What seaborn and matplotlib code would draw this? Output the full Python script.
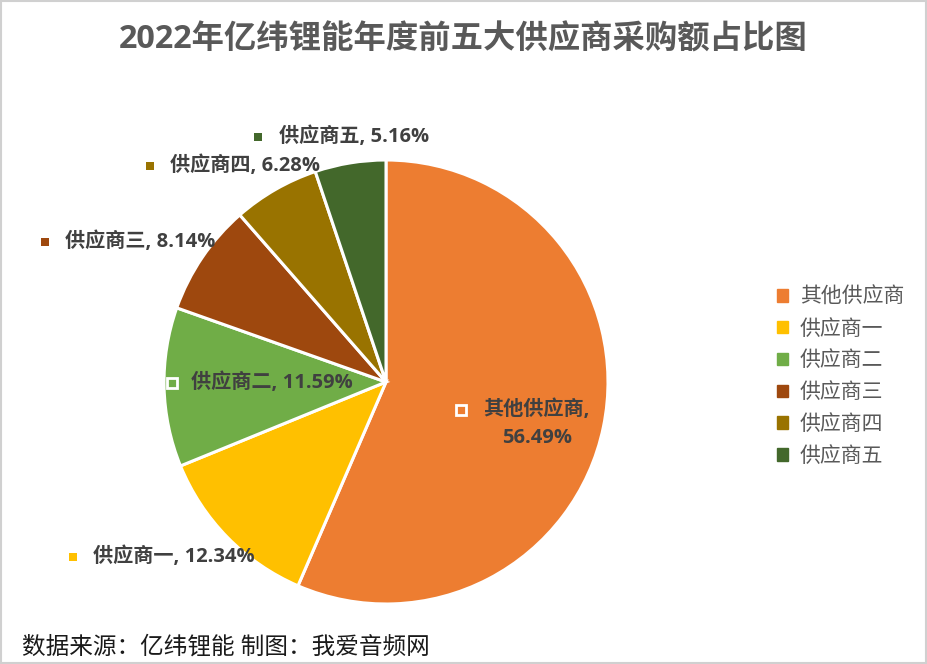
import matplotlib
matplotlib.use("Agg")
import matplotlib.pyplot as plt
from matplotlib.lines import Line2D
from matplotlib.patches import Rectangle
import seaborn as sns

categories = ["其他供应商", "供应商一", "供应商二", "供应商三", "供应商四", "供应商五"]
values = [56.49, 12.34, 11.59, 8.14, 6.28, 5.16]
colors = ["#ED7D31", "#FFC000", "#70AD47", "#9E480E", "#997300", "#43682B"]
title = "2022年亿纬锂能年度前五大供应商采购额占比图"
footer = "数据来源：亿纬锂能 制图：我爱音频网"

sns.set_theme(style="white")
FAM = ["Open Sans", "Noto Sans CJK SC", "DejaVu Sans"]
plt.rcParams["font.family"] = FAM

W, H = 928, 664
fig = plt.figure(figsize=(W / 100, H / 100), dpi=100)
fig.patch.set_facecolor("white")

def fx(px):
    return px / W

def fy(py):
    return 1 - py / H

cx, cy, r = 386, 382, 222
ax = fig.add_axes([fx(cx - r), fy(cy + r), 2 * r / W, 2 * r / H])
palette = sns.color_palette(colors)
ax.pie(values, colors=palette, startangle=90, counterclock=False,
       wedgeprops=dict(edgecolor="white", linewidth=2.2), radius=1)
ax.set_xlim(-1, 1)
ax.set_ylim(-1, 1)
ax.set_aspect("equal")
ax.axis("off")

# title
fig.text(fx(463), fy(40), title, ha="center", va="center", fontsize=23.3,
         fontweight="bold", color="#595959")

# data labels: (marker x, y, text x, inside)
label_pos = [
    (461, 410, 483, True),
    (73, 557, 93, False),
    (172, 383, 191, True),
    (45, 242, 65, False),
    (150, 166, 170, False),
    (258, 137, 279, False),
]
LFS = 14.5
for (mx, my, tx, inside), cat, val, col in zip(label_pos, categories, values, colors):
    if inside:
        fig.add_artist(Line2D([fx(mx)], [fy(my)], marker="s", markersize=7,
                              markerfacecolor=col, markeredgecolor="white",
                              markeredgewidth=2, transform=fig.transFigure))
    else:
        fig.add_artist(Line2D([fx(mx)], [fy(my)], marker="s", markersize=5.5,
                              markerfacecolor=col, markeredgecolor=col,
                              markeredgewidth=0, transform=fig.transFigure))
    if cat == "其他供应商":
        fig.text(fx(tx), fy(my), f"{cat},", ha="left", va="center", fontsize=LFS,
                 fontweight="bold", color="#404040")
        fig.text(fx(537), fy(438), f"{val:.2f}%", ha="center", va="center",
                 fontsize=LFS, fontweight="bold", color="#404040")
    else:
        fig.text(fx(tx), fy(my), f"{cat}, {val:.2f}%", ha="left", va="center",
                 fontsize=LFS, fontweight="bold", color="#404040")

# legend
handles = [Rectangle((0, 0), 1, 1, facecolor=c, edgecolor=c) for c in colors]
leg = fig.legend(handles, categories, loc="upper left",
                 bbox_to_anchor=(fx(758), fy(268)), frameon=False,
                 fontsize=15, handlelength=0.55, handleheight=0.55,
                 handletextpad=0.55, labelspacing=0.52, labelcolor="#595959")

# footer
fig.text(fx(22), fy(648), footer, ha="left", va="center", fontsize=17,
         color="#1a1a1a")

# border
fig.add_artist(Rectangle((0.001, 0.002), 0.997, 0.996, transform=fig.transFigure,
                         fill=False, edgecolor="#D0D0D0", linewidth=1.5))

fig.savefig("out.png", dpi=100)
